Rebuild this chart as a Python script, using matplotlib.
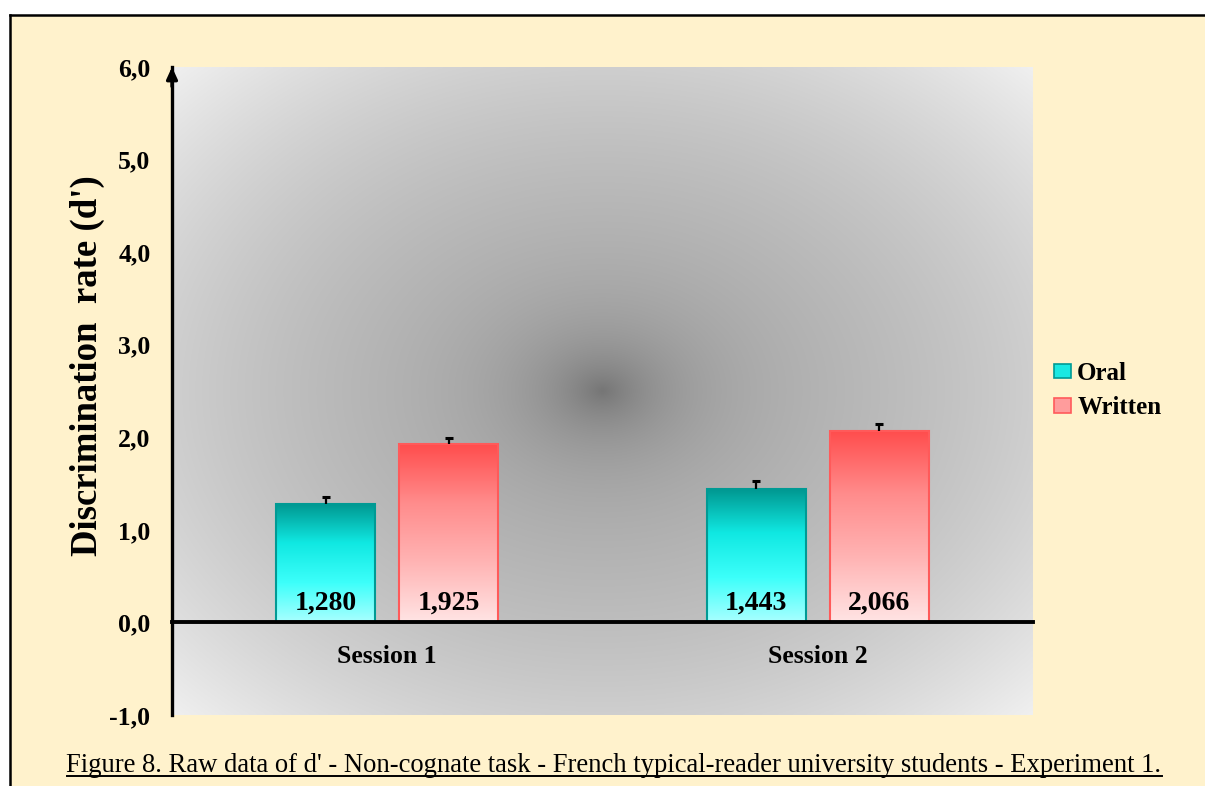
import matplotlib
matplotlib.use('Agg')
import matplotlib.pyplot as plt
import numpy as np
from matplotlib.colors import LinearSegmentedColormap
from matplotlib.patches import Rectangle, Patch
from matplotlib.lines import Line2D

plt.rcParams['font.family'] = ['Liberation Serif', 'DejaVu Serif']

sessions = ['Session 1', 'Session 2']
oral = [1.280, 1.443]
written = [1.925, 2.066]
oral_err = [0.08, 0.08]
written_err = [0.07, 0.075]
value_labels_oral = ['1,280', '1,443']
value_labels_written = ['1,925', '2,066']
yticks = [-1, 0, 1, 2, 3, 4, 5, 6]
ytick_labels = ['-1,0', '0,0', '1,0', '2,0', '3,0', '4,0', '5,0', '6,0']
caption = ("Figure 8. Raw data of d' - Non-cognate task - French "
           "typical-reader university students - Experiment 1.")

W, H = 1205, 786
fig = plt.figure(figsize=(W / 100, H / 100), dpi=100, facecolor='white')

# cream page, border only on top and left
fig.add_artist(Rectangle((10 / W, 0), 1.0, 1 - 15 / H,
                         transform=fig.transFigure, facecolor='#FFF2CC',
                         edgecolor='none', zorder=0))
fig.add_artist(Line2D([10 / W, 1.0], [1 - 15 / H, 1 - 15 / H],
                      transform=fig.transFigure, color='black', lw=1.8))
fig.add_artist(Line2D([10 / W, 10 / W], [0, 1 - 15 / H],
                      transform=fig.transFigure, color='black', lw=1.8))

ax = fig.add_axes([172 / W, 1 - 715 / H, (1033 - 172) / W, (715 - 67) / H])
ax.set_facecolor('none')

# radial grey background
ny, nx = 300, 400
yy, xx = np.mgrid[-1:1:ny * 1j, -1:1:nx * 1j]
r = np.sqrt(xx ** 2 + yy ** 2) / np.sqrt(2)
v = 0.46 + 0.22 * (1 - np.exp(-r / 0.12)) + 0.26 * r ** 2
v = np.clip(v, 0, 1)
bg = np.dstack([v, v, v])
ax.imshow(bg, extent=(0, 1, 0, 1), transform=ax.transAxes, aspect='auto',
          zorder=0, interpolation='bilinear')

x = np.arange(len(sessions))
bw = 0.23
off = 0.1425

teal_cmap = LinearSegmentedColormap.from_list(
    'teal', ['#A8FFFF', '#3CFFFA', '#10E8E2', '#00968F'])
red_cmap = LinearSegmentedColormap.from_list(
    'red', ['#FFE4E4', '#FFB4B4', '#FF8C8C', '#FF4C4C'])

grad = np.linspace(0, 1, 256).reshape(-1, 1)

groups = [
    (x - off, oral, oral_err, teal_cmap, '#009A94', value_labels_oral),
    (x + off, written, written_err, red_cmap, '#FF5A5A', value_labels_written),
]
for xs, vals, errs, cmap, ec, labs in groups:
    bars = ax.bar(xs, vals, bw, facecolor='none', edgecolor=ec, lw=1.5,
                  zorder=3)
    for b in bars:
        bx, bwid, bh = b.get_x(), b.get_width(), b.get_height()
        im = ax.imshow(grad, extent=(bx, bx + bwid, 0, bh), origin='lower',
                       cmap=cmap, aspect='auto', zorder=2,
                       interpolation='bilinear')
        im.set_clip_path(b)
    eb = ax.errorbar(xs, vals, yerr=[np.zeros(len(vals)), errs], fmt='none',
                     ecolor='black', elinewidth=1.6, capsize=3, capthick=2.2,
                     zorder=4)
    eb[1][0].set_visible(False)  # hide lower cap
    for xi, lab in zip(xs, labs):
        ax.text(xi, 0.21, lab, ha='center', va='center', fontsize=20,
                fontweight='bold', zorder=5)

ax.set_xlim(-0.5, 1.5)
ax.set_ylim(-1, 6)

for s in ['top', 'right']:
    ax.spines[s].set_visible(False)
ax.spines['left'].set_linewidth(2.4)
ax.spines['bottom'].set_position(('data', 0))
ax.spines['bottom'].set_linewidth(2.8)
ax.spines['left'].set_zorder(6)
ax.spines['bottom'].set_zorder(6)

ax.set_yticks(yticks)
ax.set_yticklabels(ytick_labels, fontsize=18.5, fontweight='bold')
ax.set_xticks(x)
ax.set_xticklabels(sessions, fontsize=18.5, fontweight='bold')
ax.tick_params(axis='y', length=0, pad=15.5)
ax.tick_params(axis='x', length=0, pad=16.5)

# arrow head on y axis
ax.annotate('', xy=(0, 1.0), xytext=(0, 0.97), xycoords='axes fraction',
            arrowprops=dict(arrowstyle='-|>,head_length=0.7,head_width=0.32',
                            lw=2.4, color='black', shrinkA=0, shrinkB=0),
            zorder=7, annotation_clip=False)

fig.text(87 / W, 1 - 366 / H, "Discrimination  rate (d')", rotation=90,
         ha='center', va='center', fontsize=26.5, fontweight='bold')

handles = [Patch(facecolor='#1AE8E2', edgecolor='#009A94', lw=1.2),
           Patch(facecolor='#FF9C9C', edgecolor='#FF5A5A', lw=1.2)]
fig.legend(handles, ['Oral', 'Written'], loc='upper left',
           bbox_to_anchor=(1054 / W, 1 - 362 / H), frameon=False,
           prop={'size': 18, 'weight': 'bold'}, handlelength=0.68,
           handleheight=0.52, handletextpad=0.25, labelspacing=0.45,
           borderpad=0, borderaxespad=0)

cy = 1 - 772 / H
ct = fig.text(614 / W, cy, caption, ha='center', va='baseline', fontsize=19.2)
fig.canvas.draw()
bb = ct.get_window_extent(fig.canvas.get_renderer())
fig.add_artist(Line2D([bb.x0 / W, bb.x1 / W], [cy - 3.5 / H, cy - 3.5 / H],
                      transform=fig.transFigure, color='black', lw=1.4))

fig.savefig('out.png', dpi=100, facecolor=fig.get_facecolor())
